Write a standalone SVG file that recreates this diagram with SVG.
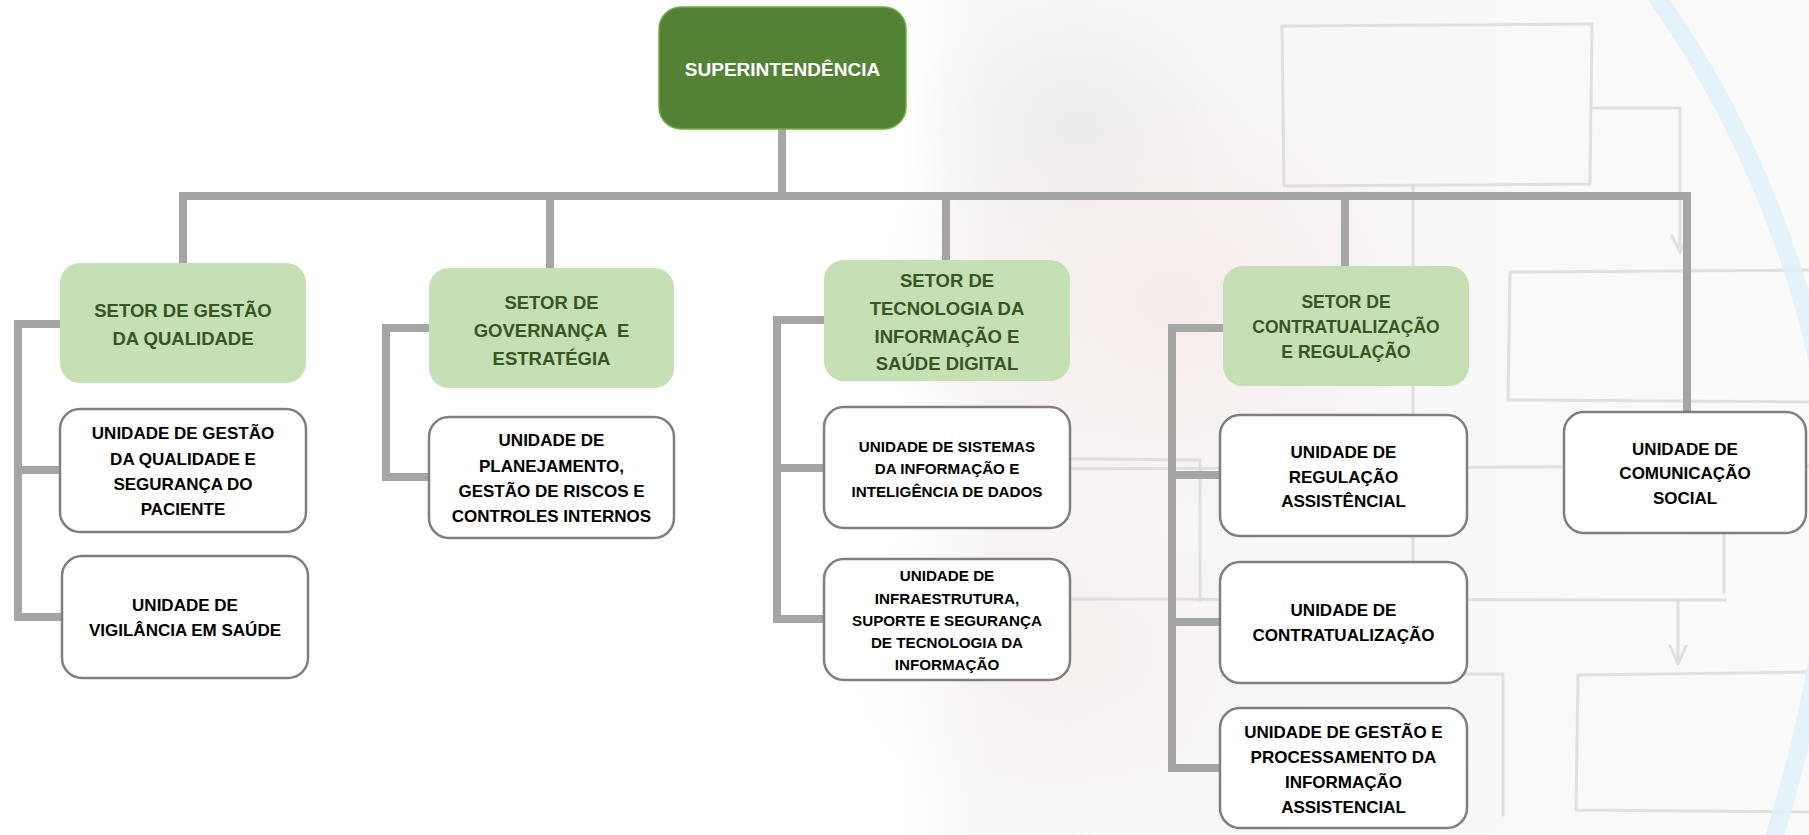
<svg xmlns="http://www.w3.org/2000/svg" width="1809" height="835" viewBox="0 0 1809 835">
<defs>
<linearGradient id="bgfade" x1="0" y1="0" x2="1" y2="0">
<stop offset="0" stop-color="#f8f6f6" stop-opacity="0"/>
<stop offset="0.1" stop-color="#f8f6f6" stop-opacity="1"/>
<stop offset="1" stop-color="#fafafa" stop-opacity="1"/>
</linearGradient>
<radialGradient id="pink" cx="0.5" cy="0.5" r="0.5">
<stop offset="0" stop-color="#f5ebe8" stop-opacity="0.9"/>
<stop offset="1" stop-color="#f5ebe8" stop-opacity="0"/>
</radialGradient>
<radialGradient id="grey" cx="0.5" cy="0.5" r="0.5">
<stop offset="0" stop-color="#ebebeb" stop-opacity="0.9"/>
<stop offset="1" stop-color="#ebebeb" stop-opacity="0"/>
</radialGradient>
<style>
.bgl{fill:none;stroke:#dadada;stroke-width:3;stroke-linejoin:round;stroke-linecap:round;opacity:0.8}
.sup{fill:#548235;stroke:#70AD47;stroke-width:1.5}
.setor{fill:#C5E0B4}
.unit{fill:#ffffff;stroke:#7F7F7F;stroke-width:2.5}
.con{fill:none;stroke:#A5A5A5;stroke-width:8}
text{font-family:"Liberation Sans",Arial,sans-serif;font-weight:bold;text-anchor:middle}
.ts{fill:#ffffff;font-size:19px}
.tg{fill:#375623;font-size:18.5px}
.tg2{fill:#375623;font-size:17.5px}
.tu{fill:#000000;font-size:17px}
.tu2{fill:#000000;font-size:15.2px}
</style>
</defs>
<rect x="0" y="0" width="1809" height="835" fill="#ffffff"/>
<g id="background">
<rect x="900" y="0" width="909" height="835" fill="url(#bgfade)"/>
<ellipse cx="1080" cy="130" rx="170" ry="150" fill="url(#grey)"/>
<ellipse cx="1170" cy="300" rx="300" ry="240" fill="url(#pink)"/>
<ellipse cx="1080" cy="650" rx="240" ry="190" fill="url(#pink)" opacity="0.6"/>
<path class="bgl" d="M1282 26 L1592 24 L1590 184 L1284 186 Z"/>
<path class="bgl" d="M1592 108 L1680 108 L1680 250 M1672 236 L1680 252 L1688 236"/>
<path class="bgl" d="M1413 186 L1413 575"/>
<path class="bgl" d="M1510 272 L1809 270 M1510 272 L1508 400 L1809 402"/>
<path class="bgl" d="M1000 469 L1809 466"/>
<path class="bgl" d="M1000 458 L1200 460 L1200 600"/>
<path class="bgl" d="M1000 599 L1725 600 M1724 533 L1724 592"/>
<path class="bgl" d="M1678 600 L1678 662 M1670 646 L1678 664 L1686 646"/>
<path class="bgl" d="M1578 675 L1809 672 M1578 675 L1576 810 L1809 812"/>
<path class="bgl" d="M1222 675 L1503 674 L1503 815"/>
<path d="M1652 -10 C1760 140 1826 330 1832 470 C1836 600 1810 720 1772 845" fill="none" stroke="#def1f8" stroke-width="18" opacity="0.85"/>
</g>
<g id="connectors">
<path class="con" d="M782 129 L782 196"/>
<path class="con" d="M179 196 L1691 196"/>
<path class="con" d="M183 196 L183 264"/>
<path class="con" d="M550 196 L550 268"/>
<path class="con" d="M946 196 L946 261"/>
<path class="con" d="M1345 196 L1345 266"/>
<path class="con" d="M1687 196 L1687 412"/>
<path class="con" d="M61 324 L18 324 L18 617 L62 617 M18 470 L60 470"/>
<path class="con" d="M429 328 L386 328 L386 477 L429 477"/>
<path class="con" d="M824 320 L777 320 L777 619 L824 619 M777 468 L824 468"/>
<path class="con" d="M1223 328 L1172 328 L1172 768 L1220 768 M1172 475 L1220 475 M1172 622 L1220 622"/>
</g>
<g id="superintendencia">
<rect class="sup" x="659" y="7" width="247" height="122" rx="22"/>
<text class="ts" x="782.5" y="76">SUPERINTENDÊNCIA</text>
</g>
<g id="setor-gestao-qualidade">
<rect class="setor" x="60" y="263" width="246" height="120" rx="20"/>
<text class="tg" x="183" y="317">SETOR DE GESTÃO</text>
<text class="tg" x="183" y="345">DA QUALIDADE</text>
</g>
<g id="setor-governanca">
<rect class="setor" x="429" y="268" width="245" height="120" rx="20"/>
<text class="tg" x="551.5" y="309">SETOR DE</text>
<text class="tg" x="551.5" y="337" xml:space="preserve">GOVERNANÇA  E</text>
<text class="tg" x="551.5" y="365">ESTRATÉGIA</text>
</g>
<g id="setor-tecnologia">
<rect class="setor" x="824" y="260" width="246" height="121" rx="20"/>
<text class="tg" x="947" y="287">SETOR DE</text>
<text class="tg" x="947" y="315">TECNOLOGIA DA</text>
<text class="tg" x="947" y="343">INFORMAÇÃO E</text>
<text class="tg" x="947" y="370">SAÚDE DIGITAL</text>
</g>
<g id="setor-contratualizacao">
<rect class="setor" x="1223" y="266" width="246" height="120" rx="20"/>
<text class="tg2" x="1346" y="308">SETOR DE</text>
<text class="tg2" x="1346" y="333">CONTRATUALIZAÇÃO</text>
<text class="tg2" x="1346" y="358">E REGULAÇÃO</text>
</g>
<g id="unidade-gestao-qualidade">
<rect class="unit" x="60" y="409" width="246" height="123" rx="20"/>
<text class="tu" x="183" y="439">UNIDADE DE GESTÃO</text>
<text class="tu" x="183" y="465">DA QUALIDADE E</text>
<text class="tu" x="183" y="490">SEGURANÇA DO</text>
<text class="tu" x="183" y="515">PACIENTE</text>
</g>
<g id="unidade-vigilancia">
<rect class="unit" x="62" y="556" width="246" height="122" rx="20"/>
<text class="tu" x="185" y="611">UNIDADE DE</text>
<text class="tu" x="185" y="636">VIGILÂNCIA EM SAÚDE</text>
</g>
<g id="unidade-planejamento">
<rect class="unit" x="429" y="417" width="245" height="121" rx="20"/>
<text class="tu" x="551.5" y="446">UNIDADE DE</text>
<text class="tu" x="551.5" y="472">PLANEJAMENTO,</text>
<text class="tu" x="551.5" y="497">GESTÃO DE RISCOS E</text>
<text class="tu" x="551.5" y="522">CONTROLES INTERNOS</text>
</g>
<g id="unidade-sistemas">
<rect class="unit" x="824" y="407" width="246" height="121" rx="20"/>
<text class="tu2" x="947" y="452">UNIDADE DE SISTEMAS</text>
<text class="tu2" x="947" y="474">DA INFORMAÇÃO E</text>
<text class="tu2" x="947" y="497">INTELIGÊNCIA DE DADOS</text>
</g>
<g id="unidade-infraestrutura">
<rect class="unit" x="824" y="559" width="246" height="121" rx="20"/>
<text class="tu2" x="947" y="581">UNIDADE DE</text>
<text class="tu2" x="947" y="604">INFRAESTRUTURA,</text>
<text class="tu2" x="947" y="626">SUPORTE E SEGURANÇA</text>
<text class="tu2" x="947" y="648">DE TECNOLOGIA DA</text>
<text class="tu2" x="947" y="670">INFORMAÇÃO</text>
</g>
<g id="unidade-regulacao">
<rect class="unit" x="1220" y="415" width="247" height="121" rx="20"/>
<text class="tu" x="1343.5" y="458">UNIDADE DE</text>
<text class="tu" x="1343.5" y="483">REGULAÇÃO</text>
<text class="tu" x="1343.5" y="507">ASSISTÊNCIAL</text>
</g>
<g id="unidade-contratualizacao">
<rect class="unit" x="1220" y="562" width="247" height="121" rx="20"/>
<text class="tu" x="1343.5" y="616">UNIDADE DE</text>
<text class="tu" x="1343.5" y="641">CONTRATUALIZAÇÃO</text>
</g>
<g id="unidade-gestao-processamento">
<rect class="unit" x="1220" y="708" width="247" height="120" rx="20"/>
<text class="tu" x="1343.5" y="738">UNIDADE DE GESTÃO E</text>
<text class="tu" x="1343.5" y="763">PROCESSAMENTO DA</text>
<text class="tu" x="1343.5" y="788">INFORMAÇÃO</text>
<text class="tu" x="1343.5" y="813">ASSISTENCIAL</text>
</g>
<g id="unidade-comunicacao">
<rect class="unit" x="1564" y="412" width="242" height="121" rx="20"/>
<text class="tu" x="1685" y="455">UNIDADE DE</text>
<text class="tu" x="1685" y="479">COMUNICAÇÃO</text>
<text class="tu" x="1685" y="504">SOCIAL</text>
</g>
</svg>
